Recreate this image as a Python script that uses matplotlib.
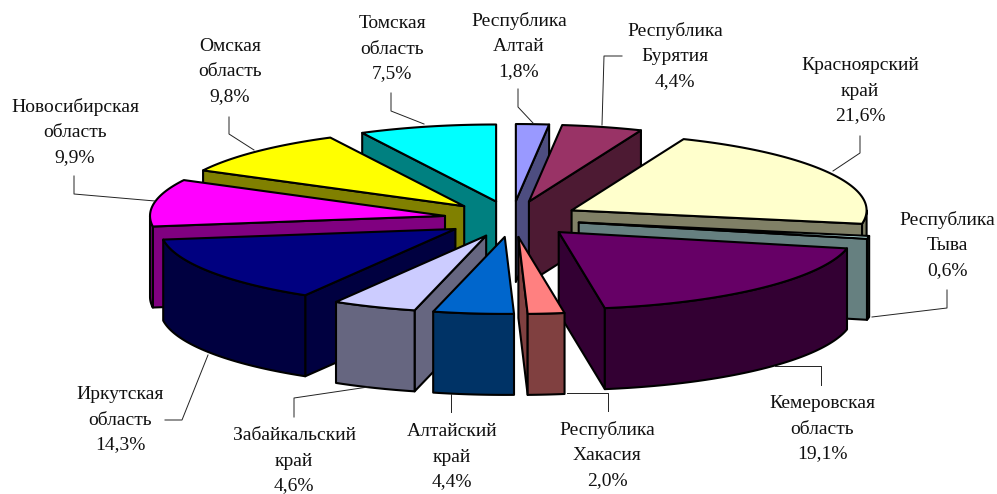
import numpy as np
import matplotlib
matplotlib.use("Agg")
import matplotlib.pyplot as plt
from matplotlib.patches import Polygon

plt.rcParams['font.family'] = ['Liberation Serif', 'DejaVu Serif']

# regions, clockwise from 12 o'clock
names = ['Республика\nАлтай', 'Республика\nБурятия', 'Красноярский\nкрай', 'Республика\nТыва',
         'Кемеровская\nобласть', 'Республика\nХакасия', 'Алтайский\nкрай', 'Забайкальский\nкрай',
         'Иркутская\nобласть', 'Новосибирская\nобласть', 'Омская\nобласть', 'Томская\nобласть']
shares = [1.8, 4.4, 21.6, 0.6, 19.1, 2.0, 4.4, 4.6, 14.3, 9.9, 9.8, 7.5]
top_colors = ['#9999FF', '#993366', '#FFFFCC', '#CCFFFF', '#660066', '#FF8080',
              '#0066CC', '#CCCCFF', '#000080', '#FF00FF', '#FFFF00', '#00FFFF']
side_colors = ['#4D4D80', '#4D1A33', '#808066', '#668080', '#330033', '#804040',
               '#003366', '#666680', '#000040', '#800080', '#808000', '#008080']

# label centres and leader lines in picture pixels
label_pos = [(519, 46), (675, 56), (860, 91), (947, 245), (822, 429), (607, 455),
             (452, 457), (294, 461), (120, 420), (75, 132), (230, 72), (392, 49)]
leaders = [[(518, 89), (518, 107), (533, 123)],
           [(622, 56), (604, 56), (602, 125)],
           [(860, 136), (860, 153), (833, 171)],
           [(947, 290), (947, 308), (872, 317)],
           [(821, 385), (821, 366), (775, 366)],
           [(608, 411), (608, 393), (567, 393)],
           [(451, 412), (451, 394)],
           [(294, 417), (294, 398), (368, 387)],
           [(165, 420), (182, 420), (208, 355)],
           [(74, 176), (74, 194), (155, 201)],
           [(229, 117), (229, 134), (254, 150)],
           [(391, 93), (391, 111), (424, 124)]]

# pie geometry
cx, cy = 512, 219
rx, ry = 295, 77
depth = 81
explode_x, explode_y = 68, 18

fig = plt.figure(figsize=(9.97, 4.94), dpi=100)
ax = fig.add_axes([0, 0, 1, 1])
ax.set_xlim(0, 997)
ax.set_ylim(494, 0)
ax.axis('off')

edges = np.cumsum([0] + shares) * 3.6


def rim(a0, a1, x0, y0):
    t = np.radians(np.linspace(a0, a1, max(int(abs(a1 - a0)) + 2, 2)))
    return np.column_stack([x0 + rx * np.sin(t), y0 - ry * np.cos(t)])


def drop(pts):
    return np.vstack([pts, (pts + [0, depth])[::-1]])


mids = (edges[:-1] + edges[1:]) / 2
order = np.argsort(-np.cos(np.radians(mids)))
lw = 1.5
z = 1
for i in order:
    a0, a1, m = edges[i], edges[i + 1], np.radians(mids[i])
    x0 = cx + explode_x * np.sin(m)
    y0 = cy - explode_y * np.cos(m)
    apex = np.array([[x0, y0]])
    faces = []
    # cut faces towards the viewer
    if np.sin(np.radians(a0)) < -1e-6:
        faces.append(drop(np.vstack([apex, rim(a0, a0, x0, y0)[:1]])))
    if np.sin(np.radians(a1)) > 1e-6:
        faces.append(drop(np.vstack([apex, rim(a1, a1, x0, y0)[:1]])))
    for face in faces:
        ax.add_patch(Polygon(face, fc=side_colors[i], ec='black', lw=lw, joinstyle='round', zorder=z))
        z += 1
    # outer wall, front half only
    lo, hi = max(a0, 90), min(a1, 270)
    if hi > lo:
        ax.add_patch(Polygon(drop(rim(lo, hi, x0, y0)), fc=side_colors[i], ec='black', lw=lw,
                             joinstyle='round', zorder=z))
        z += 1
    top = np.vstack([apex, rim(a0, a1, x0, y0)])
    ax.add_patch(Polygon(top, fc=top_colors[i], ec='black', lw=lw, joinstyle='round', zorder=z))
    z += 1

for name, share, pos, line in zip(names, shares, label_pos, leaders):
    text = name + '\n' + f'{share:.1f}%'.replace('.', ',')
    ax.text(pos[0], pos[1], text, ha='center', va='center', fontsize=14, color='#111111',
            linespacing=1.62, zorder=200)
    xs, ys = zip(*line)
    ax.plot(xs, ys, color='#222222', lw=0.7, zorder=150)

fig.savefig('out.png', dpi=100)
